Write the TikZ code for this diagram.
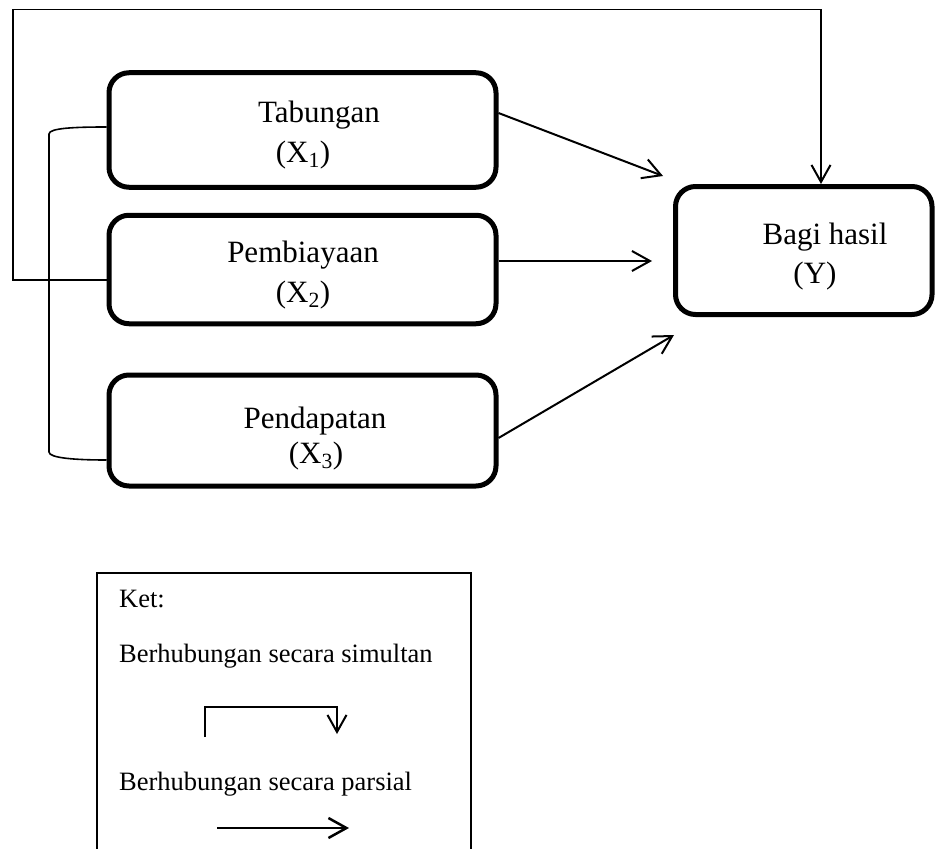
\documentclass[tikz,border=0pt]{standalone}
\usepackage{fontspec}
\setmainfont{Liberation Serif}
\usetikzlibrary{arrows.meta}
\begin{document}
\begin{tikzpicture}[x=1pt,y=-1pt,
  varbox/.style={draw, line width=5pt, rounded corners=20pt, inner sep=0pt},
  maintext/.style={font=\fontsize{31}{37}\selectfont, inner sep=0pt, anchor=base},
  legtext/.style={font=\fontsize{26.5}{32}\selectfont, inner sep=0pt, anchor=base west},
  parr/.style={line width=2pt, -{Straight Barb[length=18pt,width=20pt]}},
  thinline/.style={line width=1.6pt},
  simarr/.style={line width=1.6pt, -{Straight Barb[length=17pt,width=19pt,line width=2pt]}},
  legarr/.style={line width=2.5pt, -{Straight Barb[length=18pt,width=20pt]}}]

\useasboundingbox (0,0) rectangle (936,848);
\clip (0,0) rectangle (936,848);

% variable boxes
\node[varbox, minimum width=387pt, minimum height=114.5pt] (tab) at (302.5,130) {};
\node[varbox, minimum width=387pt, minimum height=108.5pt] (pem) at (302.5,269.5) {};
\node[varbox, minimum width=387pt, minimum height=111pt]   (pen) at (302.5,430.5) {};
\node[varbox, minimum width=256.5pt, minimum height=128pt] (yb)  at (803.75,250.5) {};

% box labels
\node[maintext] (tabT) at (319,122) {Tabungan};
\node[maintext] (tabX) at (303,162) {(X\textsubscript{1})};
\node[maintext] (pemT) at (303,262) {Pembiayaan};
\node[maintext] (pemX) at (303,302) {(X\textsubscript{2})};
\node[maintext] (penT) at (315,428) {Pendapatan};
\node[maintext] (penX) at (316,463) {(X\textsubscript{3})};
\node[maintext] (ybT)  at (825,244) {Bagi hasil};
\node[maintext] (ybX)  at (815,283) {(Y)};

% partial effects
\coordinate (tipA) at (663,176);
\coordinate (tipB) at (652,261);
\coordinate (tipC) at (674,335);
\draw[parr] ([yshift=17pt]tab.east) -- (tipA);
\draw[parr] ([yshift=8.5pt]pem.east) -- (tipB);
\draw[parr] ([yshift=-7.5pt]pen.east) -- (tipC);

% simultaneous effect
\coordinate (topleft) at (13,9.5);
\draw[simarr] ([yshift=-10.5pt]pem.west) -| (topleft) -| ([xshift=17.25pt]yb.north);

% bracket joining the three variables
\draw[thinline] ([yshift=3pt]tab.west) .. controls (75,127) and (49,128) .. (49,134)
  -- (49,452) .. controls (49,458) and (75,460) .. ([yshift=-29.5pt]pen.west);

% legend
\draw[thinline] (97,860) -- (97,573) -- (471,573) -- (471,860);
\node[legtext] (ket) at (119,607) {Ket:};
\node[legtext] (sim) at (119,662) {Berhubungan secara simultan};
\node[legtext] (par) at (119,790) {Berhubungan secara parsial};

\coordinate (s0) at (205,737);
\coordinate (s1) at (205,707);
\coordinate (s2) at (337,707);
\coordinate (s3) at (337,734);
\draw[simarr] (s0) -- (s1) -- (s2) -- (s3);

\coordinate (p0) at (217,828);
\coordinate (p1) at (349,828);
\draw[legarr] (p0) -- (p1);
\end{tikzpicture}
\end{document}
